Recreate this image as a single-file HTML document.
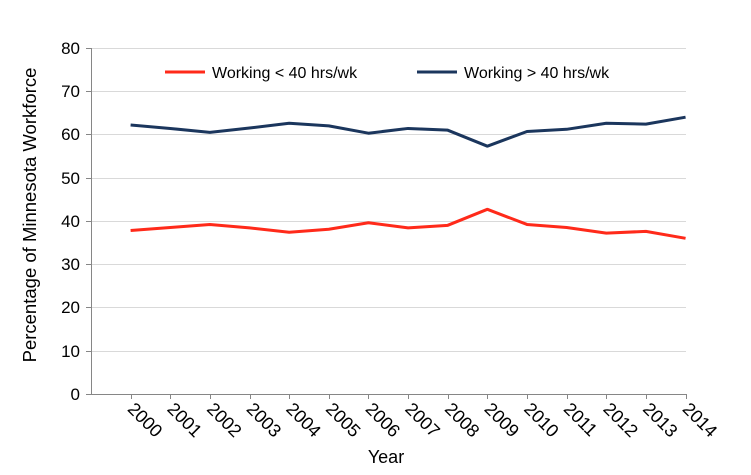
<!DOCTYPE html>
<html><head><style>body{margin:0;background:#fff}</style></head><body>
<svg width="751" height="470" xmlns="http://www.w3.org/2000/svg" font-family="Liberation Sans, Arial, sans-serif">
<g stroke="#d9d9d9" stroke-width="1">
<line x1="91" x2="686" y1="48.5" y2="48.5"/><line x1="91" x2="686" y1="91.5" y2="91.5"/><line x1="91" x2="686" y1="134.5" y2="134.5"/><line x1="91" x2="686" y1="178.5" y2="178.5"/><line x1="91" x2="686" y1="221.5" y2="221.5"/><line x1="91" x2="686" y1="264.5" y2="264.5"/><line x1="91" x2="686" y1="307.5" y2="307.5"/><line x1="91" x2="686" y1="351.5" y2="351.5"/>
</g>
<g stroke="#868686" stroke-width="1">
<line x1="91.5" x2="91.5" y1="48" y2="394"/>
<line x1="86" x2="686" y1="394.5" y2="394.5"/>
<line x1="86" x2="91" y1="48.5" y2="48.5"/><line x1="86" x2="91" y1="91.5" y2="91.5"/><line x1="86" x2="91" y1="134.5" y2="134.5"/><line x1="86" x2="91" y1="178.5" y2="178.5"/><line x1="86" x2="91" y1="221.5" y2="221.5"/><line x1="86" x2="91" y1="264.5" y2="264.5"/><line x1="86" x2="91" y1="307.5" y2="307.5"/><line x1="86" x2="91" y1="351.5" y2="351.5"/>
</g>
<g id="ticks" stroke="#868686"></g>
<g font-size="17" text-anchor="end" fill="#000">
<text x="80" y="54">80</text><text x="80" y="97">70</text><text x="80" y="140">60</text><text x="80" y="184">50</text><text x="80" y="227">40</text><text x="80" y="270">30</text><text x="80" y="313">20</text><text x="80" y="357">10</text><text x="80" y="400">0</text>
</g>
<g id="xl" font-size="18"></g>
<text x="386" y="463" font-size="18" text-anchor="middle">Year</text>
<text transform="translate(36,215) rotate(-90)" font-size="18.5" text-anchor="middle">Percentage of Minnesota Workforce</text>
<line x1="165" x2="205" y1="72" y2="72" stroke="#ff2a1a" stroke-width="3"/>
<text x="212" y="78" font-size="16">Working &lt; 40 hrs/wk</text>
<line x1="417" x2="457" y1="72" y2="72" stroke="#1b365d" stroke-width="3"/>
<text x="464" y="78" font-size="16">Working &gt; 40 hrs/wk</text>
<polyline id="b" fill="none" stroke="#1b365d" stroke-width="3" stroke-linejoin="round"/>
<polyline id="r" fill="none" stroke="#ff2a1a" stroke-width="3" stroke-linejoin="round"/>
</svg>
<script>
var B=[62.2,61.4,60.5,61.5,62.6,62,60.3,61.4,61,57.3,60.7,61.2,62.6,62.4,64];
var R=[37.8,38.5,39.2,38.4,37.4,38.1,39.6,38.4,39,42.7,39.2,38.5,37.2,37.6,36];
function X(i){return 130.6+39.64*i}function Y(v){return 394-v*4.325}
document.getElementById('b').setAttribute('points',B.map((v,i)=>X(i)+','+Y(v)).join(' '));
document.getElementById('r').setAttribute('points',R.map((v,i)=>X(i)+','+Y(v)).join(' '));
var t='',l='';
for(var i=0;i<15;i++){var x=Math.round(X(i))+.5;t+='<line x1="'+x+'" x2="'+x+'" y1="394" y2="399"/>';
l+='<text transform="translate('+(X(i)-4)+',410) rotate(45)">'+(2000+i)+'</text>';}
document.getElementById('ticks').innerHTML=t;document.getElementById('xl').innerHTML=l;
</script>
</body></html>
